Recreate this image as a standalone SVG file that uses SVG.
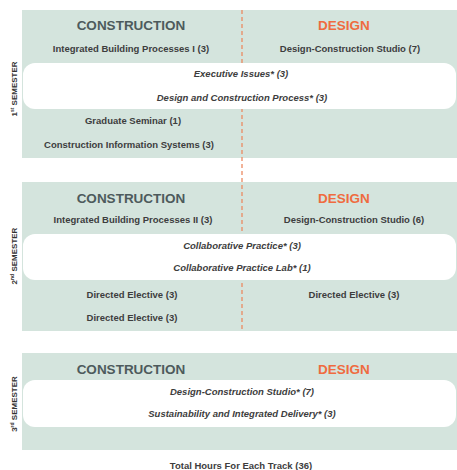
<svg xmlns="http://www.w3.org/2000/svg" width="457" height="470" viewBox="0 0 457 470">
  <style>
    .panel { fill: #d4e4dd; }
    .band { fill: #ffffff; }
    .divider { stroke: #ec8a62; stroke-width: 1.3; stroke-dasharray: 4 3; fill: none; }
    .head { font-family: "Liberation Sans", Arial, sans-serif; font-weight: bold; font-size: 13.5px; text-anchor: middle; }
    .con { fill: #4d5a5c; }
    .des { fill: #ef6b3f; }
    .course { font-family: "Liberation Sans", Arial, sans-serif; font-weight: bold; font-size: 9.5px; fill: #3d3d3d; text-anchor: middle; }
    .shared { font-family: "Liberation Sans", Arial, sans-serif; font-weight: bold; font-style: italic; font-size: 9.5px; fill: #3d3d3d; text-anchor: middle; }
    .sem { font-family: "Liberation Sans", Arial, sans-serif; font-weight: bold; font-size: 8px; fill: #333; text-anchor: middle; }
  </style>

  <!-- semester panels -->
  <g id="panels">
    <rect class="panel" x="22" y="10" width="435" height="148"/>
    <rect class="panel" x="22" y="182" width="435" height="149"/>
    <rect class="panel" x="22" y="353" width="435" height="97"/>
  </g>

  <!-- track divider between construction and design -->
  <g id="connectors">
    <line class="divider" x1="242" y1="10" x2="242" y2="331"/>
  </g>

  <!-- shared-course bands -->
  <g id="bands">
    <rect class="band" x="23" y="63" width="433" height="46" rx="12"/>
    <rect class="band" x="23" y="234" width="433" height="46" rx="12"/>
    <rect class="band" x="23" y="380" width="433" height="47" rx="12"/>
  </g>

  <!-- semester labels -->
  <g id="sem1-label">
    <text class="sem" transform="translate(17,89) rotate(-90)">1<tspan font-size="5" baseline-shift="super">st</tspan> SEMESTER</text>
  </g>
  <g id="sem2-label">
    <text class="sem" transform="translate(17,256) rotate(-90)">2<tspan font-size="5" baseline-shift="super">nd</tspan> SEMESTER</text>
  </g>
  <g id="sem3-label">
    <text class="sem" transform="translate(17,404) rotate(-90)">3<tspan font-size="5" baseline-shift="super">rd</tspan> SEMESTER</text>
  </g>

  <!-- semester 1 -->
  <g id="sem1">
    <text class="head con" x="131" y="30">CONSTRUCTION</text>
    <text class="head des" x="344" y="30">DESIGN</text>
    <text class="course" x="131" y="51.5">Integrated Building Processes I (3)</text>
    <text class="course" x="350" y="51.5">Design-Construction Studio (7)</text>
    <text class="shared" x="241" y="76.5">Executive Issues* (3)</text>
    <text class="shared" x="242" y="100.5">Design and Construction Process* (3)</text>
    <text class="course" x="133" y="123.5">Graduate Seminar (1)</text>
    <text class="course" x="129" y="147.5">Construction Information Systems (3)</text>
  </g>

  <!-- semester 2 -->
  <g id="sem2">
    <text class="head con" x="131" y="203">CONSTRUCTION</text>
    <text class="head des" x="344" y="203">DESIGN</text>
    <text class="course" x="133" y="222.5">Integrated Building Processes II (3)</text>
    <text class="course" x="354" y="222.5">Design-Construction Studio (6)</text>
    <text class="shared" x="242" y="248.5">Collaborative Practice* (3)</text>
    <text class="shared" x="242" y="270.5">Collaborative Practice Lab* (1)</text>
    <text class="course" x="132" y="297.5">Directed Elective (3)</text>
    <text class="course" x="354" y="297.5">Directed Elective (3)</text>
    <text class="course" x="132" y="320.5">Directed Elective (3)</text>
  </g>

  <!-- semester 3 -->
  <g id="sem3">
    <text class="head con" x="131" y="374">CONSTRUCTION</text>
    <text class="head des" x="344" y="374">DESIGN</text>
    <text class="shared" x="242" y="394.5">Design-Construction Studio* (7)</text>
    <text class="shared" x="242" y="416.5">Sustainability and Integrated Delivery* (3)</text>
  </g>

  <g id="total">
    <text class="course" x="241" y="469">Total Hours For Each Track (36)</text>
  </g>
</svg>
